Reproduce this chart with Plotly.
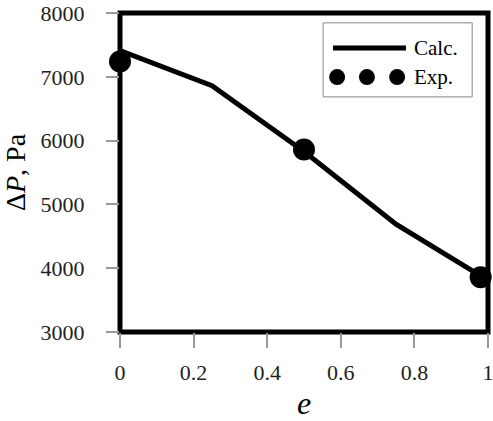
import plotly.graph_objects as go

# Data
e_calc = [0.0, 0.25, 0.5, 0.75, 0.98]
dp_calc = [7410, 6860, 5830, 4690, 3880]
e_exp = [0.0, 0.5, 0.98]
dp_exp = [7240, 5860, 3860]
x_ticks = [0, 0.2, 0.4, 0.6, 0.8, 1]
x_tick_labels = ["0", "0.2", "0.4", "0.6", "0.8", "1"]
y_ticks = [3000, 4000, 5000, 6000, 7000, 8000]
y_tick_labels = ["3000", "4000", "5000", "6000", "7000", "8000"]
legend_labels = ["Calc.", "Exp."]

FONT = "Liberation Serif, Times New Roman, serif"

fig = go.Figure()
fig.add_trace(go.Scatter(x=e_calc, y=dp_calc, mode="lines",
                         line=dict(color="black", width=5),
                         name=legend_labels[0], cliponaxis=False, showlegend=False))
fig.add_trace(go.Scatter(x=e_exp, y=dp_exp, mode="markers",
                         marker=dict(color="black", size=22),
                         name=legend_labels[1], cliponaxis=False, showlegend=False))

shapes = []
# frame
shapes.append(dict(type="rect", xref="paper", yref="paper", x0=0, x1=1, y0=0, y1=1,
                   line=dict(color="black", width=5), layer="below"))
# custom legend (paper coordinates)
shapes.append(dict(type="rect", xref="paper", yref="paper", x0=0.552, x1=0.957, y0=0.737, y1=0.969,
                   line=dict(color="#888888", width=1), fillcolor="white", layer="below"))
shapes.append(dict(type="line", xref="paper", yref="paper", x0=0.579, x1=0.777, y0=0.890, y1=0.890,
                   line=dict(color="black", width=5)))
r_x = 8 / 368
r_y = 8 / 319
for cx in [0.590, 0.671, 0.753]:
    shapes.append(dict(type="circle", xref="paper", yref="paper",
                       x0=cx - r_x, x1=cx + r_x, y0=0.799 - r_y, y1=0.799 + r_y,
                       fillcolor="black", line=dict(color="black", width=0)))
annotations = [
    dict(xref="paper", yref="paper", x=0.793, y=0.890, text=legend_labels[0], showarrow=False,
         xanchor="left", yanchor="middle", font=dict(family=FONT, size=21, color="black")),
    dict(xref="paper", yref="paper", x=0.793, y=0.799, text=legend_labels[1], showarrow=False,
         xanchor="left", yanchor="middle", font=dict(family=FONT, size=21, color="black")),
]

fig.update_layout(
    width=493, height=421,
    margin=dict(l=120, r=5, t=13, b=89),
    plot_bgcolor="white", paper_bgcolor="white",
    font=dict(family=FONT, size=22, color="black"),
    shapes=shapes, annotations=annotations,
    showlegend=False,
)
fig.update_xaxes(range=[0, 1], tickvals=x_ticks, ticktext=x_tick_labels,
                 showline=False, automargin=False,
                 ticks="outside", ticklen=15, tickwidth=1.5, tickcolor="#999999",
                 showgrid=False, zeroline=False, layer="below traces",
                 ticklabelstandoff=6, ticklabeloverflow="allow",
                 tickfont=dict(family=FONT, size=22, color="#222222"),
                 title=dict(text="<i>e</i>", font=dict(family=FONT, size=32, color="black"), standoff=9))
fig.update_yaxes(range=[3000, 8000], tickvals=y_ticks, ticktext=y_tick_labels,
                 showline=False, automargin=False,
                 ticks="outside", ticklen=13, tickwidth=1.5, tickcolor="#999999",
                 showgrid=False, zeroline=False, layer="below traces",
                 ticklabelstandoff=17, ticklabeloverflow="allow",
                 tickfont=dict(family=FONT, size=22, color="#222222"),
                 title=dict(text="Δ<i>P</i>, Pa", font=dict(family=FONT, size=28, color="black"), standoff=13))

fig.write_html("out.html")
